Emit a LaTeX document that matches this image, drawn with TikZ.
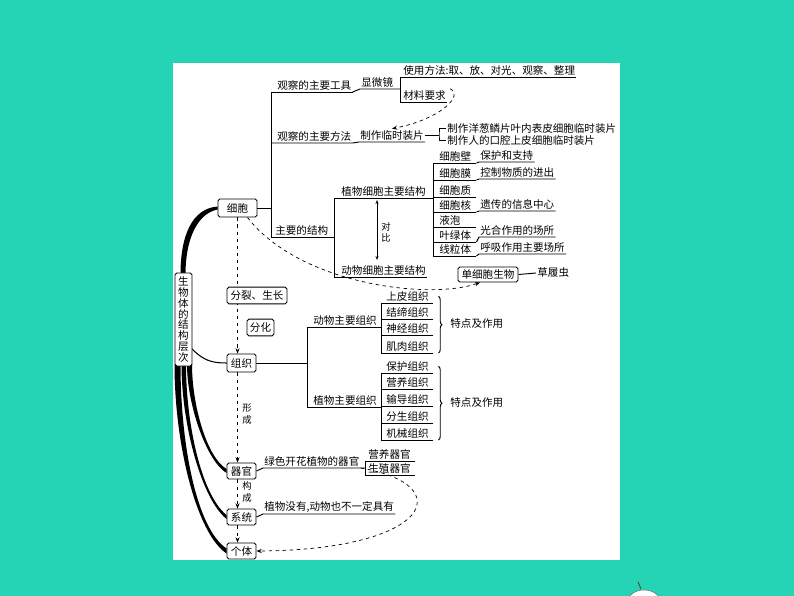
\documentclass[tikz,border=0pt]{standalone}
\usepackage{fontspec}
\setmainfont{Noto Sans CJK SC}
\usetikzlibrary{arrows.meta,calc,positioning,backgrounds,decorations.pathreplacing}
\definecolor{bgteal}{RGB}{36,212,180}

\begin{document}
\begin{tikzpicture}[x=0.03cm,y=-0.03cm,font=\fontsize{9}{10}\selectfont]
\tikzset{
  bx/.style={draw,line width=0.8pt,rounded corners=1.5pt,fill=white,inner sep=1pt,minimum height=0.5cm},
  lab/.style={anchor=south west,inner xsep=1pt,inner ysep=1.3pt},
  itm/.style={lab,text width=#1,align=left},
  ln/.style={line width=0.8pt},
  dsh/.style={dashed,line width=0.6pt,-{Stealth[length=4.5pt,width=3.5pt]}},
  brc/.style={ln,decorate,decoration={brace,amplitude=3pt}},
  vt/.style={align=center,font=\fontsize{8}{9.5}\selectfont,inner sep=0pt}
}
\useasboundingbox (0,0) rectangle (794,596);
\node[bx,minimum width=0.51cm,minimum height=2.79cm,align=center,inner sep=0pt,
  font=\fontsize{9}{9.3}\selectfont] (zt) at (183.5,319.5) {生\\物\\体\\的\\结\\构\\层\\次};
\node[bx,minimum width=1.17cm,minimum height=0.54cm] (xb) at (237.5,208) {细胞};
\node[bx,minimum width=1.8cm] (fl) at (257,295.5) {分裂、生长};
\node[bx,minimum width=0.81cm] (fh) at (260.5,327.5) {分化};
\node[bx,minimum width=0.87cm,minimum height=0.54cm] (zz) at (241.5,363) {组织};
\node[bx,minimum width=0.87cm,minimum height=0.48cm] (qg) at (241.5,471) {器官};
\node[bx,minimum width=0.87cm,minimum height=0.48cm] (xt) at (241.5,517) {系统};
\node[bx,minimum width=0.87cm,minimum height=0.48cm] (gt) at (241.5,551) {个体};
\node[bx,minimum width=1.8cm,minimum height=0.45cm] (sx) at (488,274.5) {单细胞生物};
\node[anchor=west,inner sep=1pt] (cly) at (536,273) {草履虫};
\draw[ln] (sx.east) -- (cly.west);
\node[vt] (xc) at (247,414) {形\\成};
\node[vt] (gc) at (247,492) {构\\成};

\coordinate (t0) at (271,208);
\node[lab] (gj) at (276,92) {观察的主要工具};
\node[lab] (xw) at (360,89) {显微镜};
\coordinate (b1) at (400,89);
\node[lab] (sy) at (402,77) {使用方法:取、放、对光、观察、整理};
\node[lab] (cl) at (402,102) {材料要求};
\node[lab] (ff) at (276,143) {观察的主要方法};
\node[lab] (zl) at (359,142) {制作临时装片};
\coordinate (b2) at (439,135);
\node[anchor=west,inner sep=1pt] (yc) at (446,128) {制作洋葱鳞片叶内表皮细胞临时装片};
\node[anchor=west,inner sep=1pt] (kq) at (446,140) {制作人的口腔上皮细胞临时装片};
\node[lab] (jg) at (274,237) {主要的结构};
\coordinate (b3) at (334,237);
\node[lab] (zw) at (340,198) {植物细胞主要结构};
\node[lab] (dw) at (340,277) {动物细胞主要结构};
\coordinate (db1) at (377,200); \coordinate (db2) at (377,260);
\node[vt] (db) at (386,232) {对\\比};
\draw[ln] (xb.east) -- (t0);
\draw[ln] (gj.south east) -| (t0 |- jg.south) -- (b3);
\draw[ln] (t0 |- ff.south) -- (ff.south east) -- (zl.south west) -- (zl.south east);
\draw[ln] (gj.south east) -- (xw.south west) -- (b1);
\draw[ln] (sy.south east) -- (sy.south west -| b1) -- (cl.south west -| b1) -- (cl.south east);
\draw[ln] (zl.east) -- (zl.east -| b2);
\draw[ln] (yc.west) -| (b2) |- (kq.west);
\draw[ln] (zw.south east) -- (zw.south west -| b3) -- (dw.south west -| b3) -- (dw.south east);
\draw[ln,{Stealth[length=3.5pt]}-{Stealth[length=3.5pt]}] (db1) -- (db2);

\coordinate (b4) at (433,200);
\foreach \nm/\y/\t in {cw/163/细胞壁,cm/180/细胞膜,cz/197/细胞质,ch/212/细胞核,yp/227/液泡,yl/242/叶绿体,xl/256/线粒体}{
  \node[itm=1.07cm] (\nm) at (438,\y) {\t};
  \draw[ln] (b4 |- \nm.south) -- (\nm.south east);
}
\draw[ln] (b4 |- cw.south) -- (b4 |- xl.south);
\draw[ln] (zw.south east) -- (zw.south east -| b4);
\foreach \nm/\y/\t/\s in {d1/162/保护和支持/cw,d2/179/控制物质的进出/cm,d3/211/遗传的信息中心/ch,d4/237/光合作用的场所/yl,d5/254/呼吸作用主要场所/xl}{
  \node[lab] (\nm) at (479,\y) {\t};
  \draw[ln] (\s.south east) -- (\nm.south west) -- (\nm.south east);
}

\coordinate (t1) at (307,363);
\node[lab] (dz) at (312,327) {动物主要组织};
\node[lab] (zwz) at (312,407) {植物主要组织};
\coordinate (b5) at (381,340);
\foreach \nm/\y/\t in {sp/303/上皮组织,jd/319/结缔组织,sj/335/神经组织,jr/353/肌肉组织,bh/373/保护组织,yy/389/营养组织,sd/406/输导组织,fs/423/分生组织,jx/440/机械组织}{
  \node[itm=1.37cm] (\nm) at (385,\y) {\t};
  \draw[ln] (b5 |- \nm.south) -- (\nm.south east);
}
\draw[ln] (b5 |- sp.south) -- (b5 |- jr.south);
\draw[ln] (b5 |- bh.south) -- (b5 |- jx.south);
\draw[ln] (dz.south east) -- (dz.south east -| b5);
\draw[ln] (zwz.south east) -- (zwz.south east -| b5);
\draw[ln] (zz.east) -- (t1);
\draw[ln] (dz.south east) -- (dz.south west -| t1) -- (zwz.south west -| t1) -- (zwz.south east);
\draw[brc] ($(sp.east)+(5,0)$) -- ($(jr.south east)+(5,0)$);
\node[anchor=west,inner sep=1pt] (td1) at (449,324) {特点及作用};
\draw[brc] ($(bh.east)+(5,0)$) -- ($(jx.south east)+(5,0)$);
\node[anchor=west,inner sep=1pt] (td2) at (449,403) {特点及作用};

\node[lab] (lv) at (263,468) {绿色开花植物的器官};
\coordinate (b6) at (365,468);
\node[itm=1.37cm] (yg) at (367,461) {营养器官};
\node[itm=1.37cm] (sz) at (367,475) {生殖器官};
\draw[ln] (qg.east) -- (lv.south west) -- (lv.south east) -- (b6);
\draw[ln] (yg.south east) -- (yg.south west -| b6) -- (sz.south west -| b6) -- (sz.south east);
\node[lab] (zy) at (263,514) {植物没有,动物也不一定具有};
\draw[ln] (xt.east) -- (zy.south west) -- (zy.south east);

\draw[dsh] ($(xb.south)!0.5!(xb.south east)$) .. controls (300,285) and (430,300) .. ($(sx.south west)!0.37!(sx.south east)$);
\draw[dsh] ($(cl.north east)+(3,0)$) .. controls +(14,6) and +(50,-10) .. (zl.north);
\draw[dsh] (lv.south east) .. controls (460,485) and (430,550) .. (gt.east);

\begin{scope}[on background layer]
\fill[bgteal] (0,0) rectangle (794,596);
\fill[white] (173,63) rectangle (620,560);
\filldraw[fill=white,draw=black!60,line width=0.4pt] (644,603) ellipse [x radius=17,y radius=13];
\draw[black!70,line width=0.8pt] (638,582) -- (641,589);
\fill ($(zt.north)+(-3,2)$) .. controls +(0,-40) and +(-25,2) .. ($(xb.west)+(0,-1.5)$)
  -- ($(xb.west)+(0,1.5)$) .. controls +(-20,4) and +(0,-36) .. ($(zt.north)+(2,2)$) -- cycle;
\draw[line width=0.9pt] ($(zt.south east)+(-1,-18)$) .. controls +(12,12) and +(-15,0) .. (zz.west);
\fill ($(zt.south)+(8.5,-2)$) .. controls +(0,40) and +(-20,-12) .. ($(qg.west)+(0,-2)$)
  -- ($(qg.west)+(0,2)$) .. controls +(-20,-12) and +(0,40) .. ($(zt.south)+(3.5,-2)$) -- cycle;
\fill ($(zt.south)+(2.5,-2)$) .. controls +(0,60) and +(-25,-20) .. ($(xt.west)+(0,-2)$)
  -- ($(xt.west)+(0,2)$) .. controls +(-25,-20) and +(0,60) .. ($(zt.south)+(-2,-2)$) -- cycle;
\fill ($(zt.south)+(-3,-2)$) .. controls +(0,80) and +(-30,-20) .. ($(gt.west)+(0,-2.5)$)
  -- ($(gt.west)+(0,2.5)$) .. controls +(-30,-20) and +(0,80) .. ($(zt.south)+(-9,-2)$) -- cycle;
\draw[dsh] (xb.south) -- (xb.south |- zz.north);
\draw[dsh] (xb.south |- zz.south) -- (xb.south |- qg.north);
\draw[dsh] (xb.south |- qg.south) -- (xb.south |- xt.north);
\draw[dsh] (xb.south |- xt.south) -- (xb.south |- gt.north);
\end{scope}
\end{tikzpicture}
\end{document}
